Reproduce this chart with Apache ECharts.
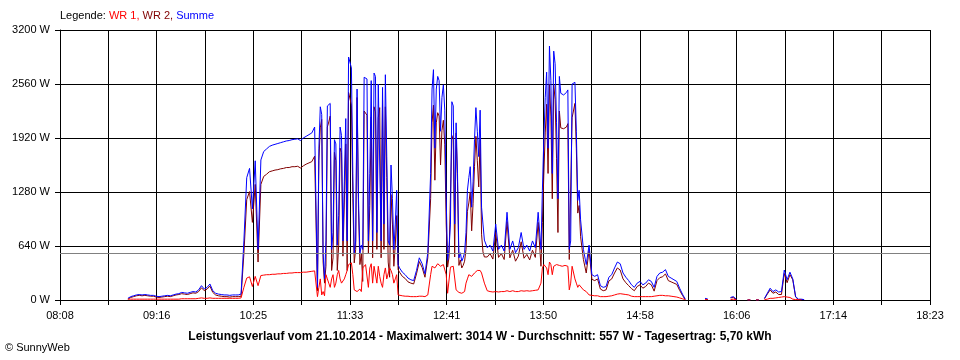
<!DOCTYPE html>
<html>
<head>
<meta charset="utf-8">
<script src="https://cdn.jsdelivr.net/npm/echarts@6/dist/echarts.min.js"></script>
<style>html,body{margin:0;padding:0;background:#fff;}#c{width:960px;height:360px;}</style>
</head>
<body>
<div id="c"></div>
<script>
// ---- data ----
const AXIS_START = '08:08';
const AXIS_END = '18:23';
const X_LABELS = ['08:08','09:16','10:25','11:33','12:41','13:50','14:58','16:06','17:14','18:23'];
const Y_TICKS = [0, 640, 1280, 1920, 2560, 3200];
const SAMPLE_START = '08:56';
const SAMPLE_STEP_MIN = 2;
const AVERAGE_W = 557;
const SERIES_NAMES = ['WR 1', 'WR 2', 'Summe'];
const N = null;

// main samples, every 2 minutes from 08:56
const SUMME = [
 20,40,50,60,65,60,65,60,55,55, 45,40,45,50,55,50,60,70,75,90,
 85,80,90,100,95,120,170,130,150,190, 110,80,70,65,60,60,55,60,60,60,
 70,
 700,1450,1560,1080,1650,600,1660,1760,1790,1820,1835,1845,1855,1865,1875,1885,1890,1900,1905,1910,1890,1920,1940,1960,1980,2050,
 150,2290,550,700,2310,600,1900,650,2050,700,2150,2880,2750,560,2500,550,600,2640,700,2600,2690,800,2560,2520,2670,700,1600,600,1300,380,
 330,300,260,240,230,350,500,430,310,560, 1500,2730,2500,2600,2400,2250,470,900,2300,2100,
 500,460,560,1300,1580,1400,2280,1700,1100,710, 620,650,580,900,600,650,580,1040,600,700,
 560,620,800,600,
 650,580,700,620,1040,600,1900,2700,3010,1500, 2800,1200,2450,2430,2460,600,2560,2580,1180,950,
 600,420,650,300,280,300,170,150,160,270,
 300,380,450,430,320,270,230,180,150,200, 220,180,200,240,220,150,280,320,330,360,
 280,260,240,220,140,70,10, N,N,N,N,N,N, 20,10, N,N,N,N,N,N,N, 30,40,10, N,N,N,
 0,0,N,0,0,N, 20,80,140,100,120,95,100,355,240,330,250,40,10,10,5,N
];
const WR1 = [
 10,10,10,10,10,10,10,10,10,10, 10,10,10,10,10,10,10,10,10,15,
 15,15,15,15,15,20,25,20,20,25, 20,20,20,20,20,20,20,20,20,20,
 25,
 150,260,275,160,280,170,290,295,300,300,305,305,310,310,315,315,320,320,325,325,325,330,330,335,340,345,
 40,250,100,300,200,250,150,300,250,180,300,420,440,120,100,130,380,420,150,430,400,200,280,150,380,250,350,200,300,50,
 50,45,45,40,40,40,45,45,40,60, 300,420,400,420,390,410,80,390,400,120,
 90,80,100,250,300,260,340,360,320,200, 110,100,95,100,95,100,100,110,100,110,
 100,100,110,105,
 110,105,110,115,120,200,420,380,450,300, 420,400,410,400,410,120,400,250,150,200,
 120,100,60,55,50,50,40,40,40,45,
 50,60,70,75,70,65,60,45,40,40, 40,40,40,40,40,45,50,55,55,50,
 50,45,40,35,25,15,5, N,N,N,N,N,N, 5,5, N,N,N,N,N,N,N, 5,10,5, N,N,N,
 0,0,N,0,0,N, 5,10,20,20,25,30,35,40,35,30,10,5,5,0,N
];
const WR2 = [
 10,30,40,50,55,50,55,50,45,45, 35,30,35,40,45,40,50,60,65,75,
 70,65,75,85,80,100,145,110,130,165, 90,60,50,45,40,40,35,40,40,40,
 45,
 550,1190,1285,920,1370,450,1370,1465,1490,1520,1530,1540,1545,1555,1560,1570,1570,1580,1580,1585,1565,1590,1610,1625,1640,1705,
 110,2040,450,400,2110,350,1750,350,1800,520,1850,2460,2310,440,2400,420,220,2220,550,2170,2290,600,2280,2370,2290,450,1250,400,1000,330,
 280,255,215,200,190,310,455,385,270,500, 1200,2310,2100,2180,2010,1840,390,510,1900,1980,
 410,380,460,1050,1280,1140,1940,1340,780,510, 510,550,485,800,505,550,480,930,500,590,
 460,520,690,495,
 540,475,590,505,920,400,1480,2320,2560,1200, 2380,800,2040,2030,2050,480,2160,2330,1030,750,
 480,320,590,245,230,250,130,110,120,225,
 250,320,380,355,250,205,170,135,110,160, 180,140,160,200,180,105,230,265,275,310,
 230,215,200,185,115,55,5, N,N,N,N,N,N, 15,5, N,N,N,N,N,N,N, 25,30,5, N,N,N,
 0,0,N,0,0,N, 15,70,120,80,95,65,65,315,205,300,240,35,5,5,5,N
];

// extra samples on the odd minutes of the cloudy (dense) periods
const DENSE_STARTS = ['11:11', '12:31', '13:49'];
const DENSE_SUMME = [
 [1800,2200,250,2300,2330,800,1850,1000,1950,1400,700,2900,1500,700,1200,650,2640,2620,1500,700,2650,2560,700,900,1700,650,1200,900,420],
 [2500,1800,2650,2000,2550,1200,600,2350,900,1500,560,500,800,1450,1100,1900,2000,2250,900],
 [1300,2400,1800,2600,2950,2100,2650,2440,2420,2490,700,2570,2000,1300]
];
const DENSE_WR1 = [
 [150,60,50,250,150,300,200,350,200,250,350,440,300,100,120,100,400,430,380,200,420,400,200,300,250,380,300,250,60],
 [400,380,430,400,420,300,90,400,390,100,85,90,200,300,280,320,350,350,330],
 [380,420,300,420,400,420,410,400,410,400,200,410,200,180]
];
const DENSE_WR2 = [
 [1650,2140,200,2050,2180,500,1650,650,1750,1150,350,2460,1200,600,1080,550,2240,2190,1120,500,2230,2160,500,600,1450,270,900,650,360],
 [2100,1420,2220,1600,2130,900,510,1950,510,1400,475,410,600,1150,820,1580,1650,1900,570],
 [920,1980,1500,2180,2550,1680,2240,2040,2010,2090,500,2160,1800,1120]
];

// ---- helpers ----
function toMin(s){ const p = s.split(':'); return (+p[0])*60 + (+p[1]); }
const T0 = toMin(AXIS_START);
const SPAN_SEC = (toMin(AXIS_END) - T0) * 60;
const TICK_SEC = SPAN_SEC / ((X_LABELS.length - 1) * 2);
const S0 = toMin(SAMPLE_START);
function build(main, dense){
  const pts = main.map((v, i) => [ (S0 + i*SAMPLE_STEP_MIN - T0) * 60, v ]);
  dense.forEach((seg, k) => {
    const d0 = toMin(DENSE_STARTS[k]);
    seg.forEach((v, j) => pts.push([ (d0 + j*SAMPLE_STEP_MIN - T0) * 60, v ]));
  });
  pts.sort((a, b) => a[0] - b[0]);
  return pts;
}

const FONT = 'Liberation Sans';
const chart = echarts.init(document.getElementById('c'), null, {renderer:'canvas'});
chart.setOption({
  animation: false,
  backgroundColor: '#ffffff',
  textStyle: { fontFamily: FONT },
  grid: { left: 60, right: 30, top: 30, bottom: 60, show: false },
  xAxis: {
    type: 'value', min: 0, max: SPAN_SEC, interval: TICK_SEC,
    axisLine: { show: true, onZero: false, lineStyle: { color: '#000', width: 1 } },
    axisTick: { show: true, length: 5, lineStyle: { color: '#000', width: 1 } },
    splitLine: { show: true, lineStyle: { color: '#000', width: 1 } },
    axisLabel: {
      color: '#000', fontSize: 11, fontFamily: FONT, margin: 10,
      showMinLabel: true, showMaxLabel: true, hideOverlap: false,
      formatter: function(v){ const k = Math.round(v / TICK_SEC); return k % 2 === 0 ? (X_LABELS[k/2] || '') : ''; }
    }
  },
  yAxis: {
    type: 'value', min: Y_TICKS[0], max: Y_TICKS[Y_TICKS.length-1], interval: Y_TICKS[1] - Y_TICKS[0],
    axisLine: { show: true, lineStyle: { color: '#000', width: 1 } },
    axisTick: { show: true, length: 5, lineStyle: { color: '#000', width: 1 } },
    splitLine: { show: true, lineStyle: { color: '#000', width: 1 } },
    axisLabel: { color: '#000', fontSize: 11, fontFamily: FONT, margin: 10,
      formatter: function(v){ return String(Math.round(v)) + ' W'; } }
  },
  series: [
    { name: SERIES_NAMES[0], type: 'line', data: build(WR1, DENSE_WR1), showSymbol: false, connectNulls: false,
      lineStyle: { color: '#ff0000', width: 1 }, itemStyle: { color: '#ff0000' }, z: 3 },
    { name: SERIES_NAMES[1], type: 'line', data: build(WR2, DENSE_WR2), showSymbol: false, connectNulls: false,
      lineStyle: { color: '#800000', width: 1 }, itemStyle: { color: '#800000' }, z: 2 },
    { name: SERIES_NAMES[2], type: 'line', data: build(SUMME, DENSE_SUMME), showSymbol: false, connectNulls: false,
      lineStyle: { color: '#0000ff', width: 1 }, itemStyle: { color: '#0000ff' }, z: 2,
      markLine: { silent: true, symbol: 'none', label: { show: false },
        lineStyle: { color: '#808080', type: 'solid', width: 1 },
        data: [ { yAxis: AVERAGE_W } ] } }
  ],
  graphic: [
    { type: 'text', left: 60, top: 10, style: {
        text: '{k|Legende: }{a|WR 1, }{b|WR 2, }{c|Summe}',
        rich: {
          k: { fill: '#000', fontSize: 11, fontFamily: FONT },
          a: { fill: '#ff0000', fontSize: 11, fontFamily: FONT },
          b: { fill: '#800000', fontSize: 11, fontFamily: FONT },
          c: { fill: '#0000ff', fontSize: 11, fontFamily: FONT }
        } } },
    { type: 'text', x: 480, y: 337, style: {
        text: 'Leistungsverlauf vom 21.10.2014 - Maximalwert: 3014 W - Durchschnitt: 557 W - Tagesertrag: 5,70 kWh',
        fill: '#000', fontSize: 12, fontWeight: 'bold', fontFamily: FONT, align: 'center', verticalAlign: 'middle' } },
    { type: 'text', x: 5, y: 348, style: {
        text: '© SunnyWeb', fill: '#000', fontSize: 11, fontFamily: FONT, align: 'left', verticalAlign: 'middle' } }
  ]
});
</script>
</body>
</html>
